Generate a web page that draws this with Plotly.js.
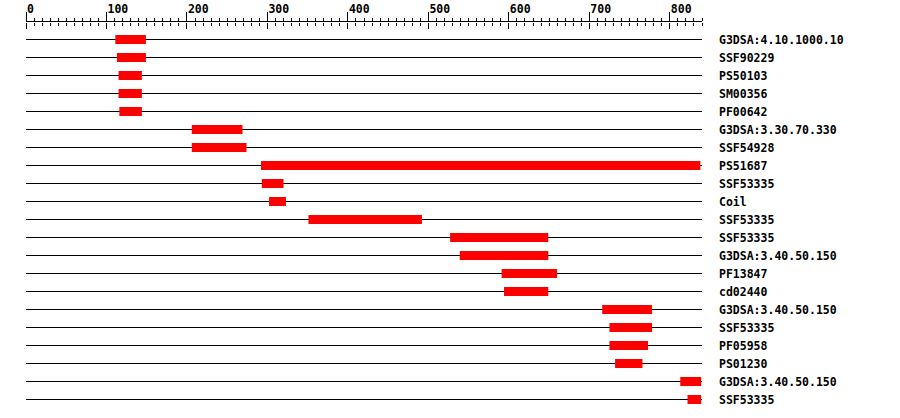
<!DOCTYPE html>
<html>
<head>
<meta charset="utf-8">
<script src="https://cdn.plot.ly/plotly-3.0.1.min.js"></script>
<style>html,body{margin:0;padding:0;background:#fff;}#chart{width:900px;height:418px;}</style>
</head>
<body>
<div id="chart"></div>
<script>
const proteinLength = 840;
const labels = ["G3DSA:4.10.1000.10","SSF90229","PS50103","SM00356","PF00642",
  "G3DSA:3.30.70.330","SSF54928","PS51687","SSF53335","Coil","SSF53335","SSF53335",
  "G3DSA:3.40.50.150","PF13847","cd02440","G3DSA:3.40.50.150","SSF53335","PF05958",
  "PS01230","G3DSA:3.40.50.150","SSF53335"];
const starts = [111,113,115,115,116,206,206,292,293,302,351,527,539,591,594,716,725,725,732,813,822];
const ends   = [149,149,144,144,144,269,274,838,320,323,492,649,649,660,649,778,778,773,766,839,839];

const rows = labels.map((_, i) => i);
const font = {family: "DejaVu Sans Mono", size: 11.5, color: "#000", weight: "bold"};

const lineTrace = {
  type: "bar", orientation: "h", xaxis: "x", yaxis: "y",
  y: rows, base: rows.map(() => 0), x: rows.map(() => proteinLength),
  width: 1/18, marker: {color: "#000", line: {width: 0}}, hoverinfo: "skip"
};
const domainTrace = {
  type: "bar", orientation: "h", xaxis: "x2", yaxis: "y",
  y: rows, base: starts, x: ends.map((e, i) => e - starts[i]),
  width: 0.5, marker: {color: "#ff0000", line: {width: 0}}, hoverinfo: "skip"
};

const layout = {
  width: 900, height: 418,
  margin: {l: 26, r: 198, t: 22, b: 9, pad: 0},
  paper_bgcolor: "#fff", plot_bgcolor: "#fff",
  showlegend: false, barmode: "overlay",
  xaxis: {
    side: "top", range: [0, proteinLength], tickmode: "linear", tick0: 0, dtick: 100,
    ticks: "outside", ticklen: 9, tickwidth: 1, tickcolor: "#000",
    minor: {dtick: 10, ticks: "outside", ticklen: 3, tickwidth: 1, tickcolor: "#000", showgrid: false},
    showline: true, linecolor: "#000", linewidth: 1,
    showgrid: false, zeroline: false, fixedrange: true,
    ticklabelposition: "outside right", ticklabelstandoff: 3, tickfont: font
  },
  xaxis2: {
    overlaying: "x", side: "bottom", anchor: "free", position: 1, range: [0, proteinLength],
    tickmode: "linear", tick0: 0, dtick: 100,
    ticks: "outside", ticklen: 6, tickwidth: 1, tickcolor: "#000",
    minor: {dtick: 10, ticks: "outside", ticklen: 3, tickwidth: 1, tickcolor: "#000", showgrid: false},
    showticklabels: false, showline: false, showgrid: false, zeroline: false, fixedrange: true
  },
  yaxis: {
    side: "right", range: [20.528, -0.972], tickmode: "array", tickvals: rows, ticktext: labels,
    ticks: "", ticklabelstandoff: 16, showline: false, showgrid: false, zeroline: false,
    fixedrange: true, tickfont: font
  }
};

Plotly.newPlot("chart", [lineTrace, domainTrace], layout, {displayModeBar: false, staticPlot: true});
</script>
</body>
</html>
